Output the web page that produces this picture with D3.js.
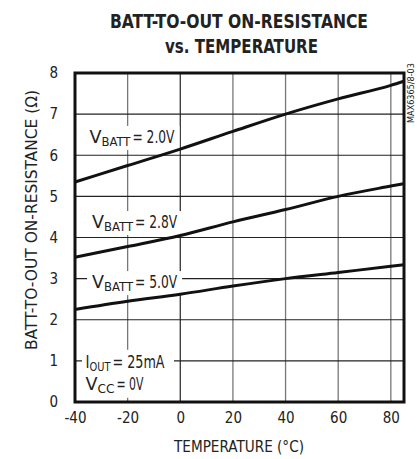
<!DOCTYPE html>
<html>
<head>
<meta charset="utf-8">
<script src="https://cdn.jsdelivr.net/npm/d3@7"></script>
<style>
  body { margin: 0; background: #fff; }
  text { font-family: "DejaVu Sans Condensed", "Liberation Sans Narrow", sans-serif; fill: #222; }
</style>
</head>
<body>
<div id="chart"></div>
<script>
var svgWidth = 420;
var svgHeight = 459;

var margin = { top: 73, right: 16, bottom: 57, left: 75 };
var width = 404 - margin.left;
var height = 402 - margin.top;

// data
var temps = [-40, -20, 0, 20, 40, 60, 80, 85];
var vbatt20 = [5.35, 5.75, 6.15, 6.58, 7.0, 7.37, 7.7, 7.8];
var vbatt28 = [3.52, 3.78, 4.05, 4.38, 4.68, 5.0, 5.25, 5.31];
var vbatt50 = [2.25, 2.45, 2.62, 2.82, 3.0, 3.15, 3.3, 3.34];
var xTicks = [-40, -20, 0, 20, 40, 60, 80];
var yTicks = [0, 1, 2, 3, 4, 5, 6, 7, 8];

var svg = d3.select("#chart")
  .append("svg")
  .attr("width", svgWidth)
  .attr("height", svgHeight);

// title
svg.append("text")
  .attr("x", 110).attr("y", 28)
  .attr("font-size", 20).attr("font-weight", "bold")
  .attr("textLength", 258).attr("lengthAdjust", "spacingAndGlyphs")
  .text("BATT-TO-OUT ON-RESISTANCE");
svg.append("text")
  .attr("x", 165).attr("y", 53)
  .attr("font-size", 20).attr("font-weight", "bold")
  .attr("textLength", 153).attr("lengthAdjust", "spacingAndGlyphs")
  .text("vs. TEMPERATURE");

var chartGroup = svg.append("g")
  .attr("transform", `translate(${margin.left}, ${margin.top})`);

var x = d3.scaleLinear().domain([-40, 85]).range([0, width]);
var y = d3.scaleLinear().domain([0, 8]).range([height, 0]);

// grid
chartGroup.selectAll(".vgrid")
  .data(xTicks.slice(1))
  .enter().append("line")
  .attr("x1", d => x(d)).attr("x2", d => x(d))
  .attr("y1", 0).attr("y2", height)
  .attr("stroke", d => d === 0 ? "#333" : "#777")
  .attr("stroke-width", 1.3);

chartGroup.selectAll(".hgrid")
  .data(yTicks.slice(1, -1))
  .enter().append("line")
  .attr("x1", 0).attr("x2", width)
  .attr("y1", d => y(d)).attr("y2", d => y(d))
  .attr("stroke", "#222")
  .attr("stroke-width", 1.1);

// tick labels
var bottomAxis = d3.axisBottom(x).tickValues(xTicks).tickSize(0).tickPadding(10)
  .tickFormat(d => String(d));
var xAxis = chartGroup.append("g")
  .attr("transform", `translate(0, ${height})`)
  .call(bottomAxis);
xAxis.select(".domain").remove();
xAxis.selectAll("text").attr("font-size", 15).attr("fill", "#222")
  .attr("font-family", "\"DejaVu Sans Condensed\", sans-serif");

var leftAxis = d3.axisLeft(y).tickValues(yTicks).tickSize(0).tickPadding(17)
  .tickFormat(d => String(d));
var yAxis = chartGroup.append("g").call(leftAxis);
yAxis.select(".domain").remove();
yAxis.selectAll("text").attr("font-size", 15).attr("fill", "#222")
  .attr("font-family", "\"DejaVu Sans Condensed\", sans-serif");

// labels: main letter, subscript, rest, each its own text
function label(tx, ty, parts, box) {
  // parts: [[text, width], [sub, width], [rest, width]]
  var total = parts[0][1] + parts[1][1] + 2 + parts[2][1];
  if (box) {
    chartGroup.append("rect")
      .attr("x", tx - 5).attr("y", ty - 17)
      .attr("width", total + 10).attr("height", 24)
      .attr("fill", "#fff");
  }
  var cx = tx;
  parts.forEach(function(p, i) {
    chartGroup.append("text")
      .attr("x", cx).attr("y", i === 1 ? ty + 3 : ty)
      .attr("font-size", i === 1 ? 13 : 17)
      .attr("textLength", p[1]).attr("lengthAdjust", "spacingAndGlyphs")
      .text(p[0]);
    cx += p[1] + (i === 1 ? 2 : 0);
  });
}

label(x(-34.5), y(6.3), [["V", 12], ["BATT", 29], ["= 2.0V", 42]], true);
label(x(-33.5), y(4.23), [["V", 12], ["BATT", 29], ["= 2.8V", 42]], true);
label(x(-33.5), y(2.77), [["V", 12], ["BATT", 29], ["= 5.0V", 42]], true);

chartGroup.append("rect")
  .attr("x", 7).attr("y", y(1.27))
  .attr("width", 92).attr("height", 48)
  .attr("fill", "#fff");
label(x(-36), y(0.83), [["I", 4], ["OUT", 21], ["= 25mA", 52]], false);
label(x(-36), y(0.29), [["V", 12], ["CC", 17], ["= 0V", 27]], false);

// curves
var line = d3.line()
  .x((d, i) => x(temps[i]))
  .y(d => y(d))
  .curve(d3.curveMonotoneX);

[vbatt20, vbatt28, vbatt50].forEach(function(s) {
  chartGroup.append("path")
    .attr("d", line(s))
    .attr("fill", "none")
    .attr("stroke", "#111")
    .attr("stroke-width", 3);
});

// frame
chartGroup.append("rect")
  .attr("x", 0).attr("y", 0)
  .attr("width", width).attr("height", height)
  .attr("fill", "none")
  .attr("stroke", "#111")
  .attr("stroke-width", 3);

// axis titles
chartGroup.append("text")
  .attr("transform", `translate(-38, ${220 - margin.top}) rotate(-90)`)
  .attr("x", -130)
  .attr("font-size", 15)
  .attr("textLength", 260).attr("lengthAdjust", "spacingAndGlyphs")
  .text("BATT-TO-OUT ON-RESISTANCE (\u03A9)");

chartGroup.append("text")
  .attr("x", 174 - margin.left)
  .attr("y", height + 50)
  .attr("font-size", 15)
  .attr("textLength", 130).attr("lengthAdjust", "spacingAndGlyphs")
  .text("TEMPERATURE (\u00B0C)");

svg.append("text")
  .attr("transform", "translate(414, 93) rotate(-90)")
  .attr("text-anchor", "middle")
  .attr("font-size", 9)
  .attr("fill", "#444")
  .text("MAX6365/8-03");
</script>
</body>
</html>
